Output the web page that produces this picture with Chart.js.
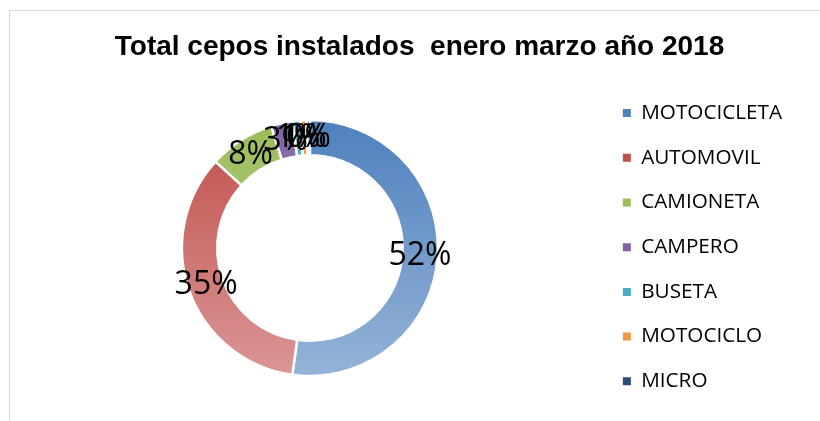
<!DOCTYPE html>
<html>
<head>
<meta charset="utf-8">
<script src="https://cdn.jsdelivr.net/npm/chart.js@4"></script>
<style>
  html, body { margin: 0; padding: 0; background: #fff; }
  #wrap { position: relative; width: 820px; height: 421px; overflow: hidden; }
  #frame { position: absolute; left: 9px; top: 10px; width: 900px; height: 500px; border: 1px solid #d9d9d9; }
  #c { position: absolute; left: 0; top: 0; }
</style>
</head>
<body>
<div id="wrap">
  <div id="frame"></div>
  <canvas id="c" width="834" height="440"></canvas>
</div>
<script>
// datos del grafico
const TITULO = 'Total cepos instalados  enero marzo año 2018';
const CATEGORIAS = ['MOTOCICLETA', 'AUTOMOVIL', 'CAMIONETA', 'CAMPERO', 'BUSETA', 'MOTOCICLO', 'MICRO'];
const PORCENTAJES = [52.2, 34.6, 8.3, 2.7, 1.0, 0.8, 0.4];

// colores: arriba (oscuro) y abajo (claro) del degradado
const COLOR_ARRIBA = ['#4f81bd', '#c0504d', '#9bbb59', '#8064a2', '#4bacc6', '#f79646', '#2c4d75'];
const COLOR_ABAJO  = ['#95b3d7', '#da9694', '#c4d79b', '#b3a2c7', '#92cddc', '#fac090', '#5f7fa8'];

const RADIO = 128;

// pequeños corrimientos de titulo y leyenda (px)
const TITULO_DX = 13;
const LEYENDA_DX = -6;
const LEYENDA_DY = 31;

function degradado(ctx) {
  const chart = ctx.chart;
  const i = ctx.dataIndex;
  const area = chart.chartArea;
  if (!area || i == null) return COLOR_ARRIBA[i || 0];
  const cy = (area.top + area.bottom) / 2;
  const g = chart.ctx.createLinearGradient(0, cy - RADIO, 0, cy + RADIO);
  g.addColorStop(0, COLOR_ARRIBA[i]);
  g.addColorStop(1, COLOR_ABAJO[i]);
  return g;
}

// etiquetas de % sobre el anillo
const etiquetas = {
  id: 'etiquetas',
  afterDatasetsDraw(chart) {
    const c = chart.ctx;
    const total = PORCENTAJES.reduce((a, b) => a + b, 0);
    c.save();
    c.font = '32px "Open Sans"';
    c.fillStyle = '#000';
    c.textAlign = 'center';
    c.textBaseline = 'middle';
    chart.getDatasetMeta(0).data.forEach((arc, i) => {
      const p = arc.tooltipPosition();
      c.fillText(Math.round(PORCENTAJES[i] * 100 / total) + '%', p.x, p.y);
    });
    c.restore();
  }
};

// mueve titulo y leyenda despues del layout
const ajustes = {
  id: 'ajustes',
  afterLayout(chart) {
    const t = chart.titleBlock, l = chart.legend;
    if (t) { t.left += TITULO_DX; t.right += TITULO_DX; }
    if (l) {
      l.left += LEYENDA_DX; l.right += LEYENDA_DX;
      l.top += LEYENDA_DY; l.bottom += LEYENDA_DY;
    }
  }
};

new Chart(document.getElementById('c'), {
  type: 'doughnut',
  data: {
    labels: CATEGORIAS,
    datasets: [{
      data: PORCENTAJES,
      backgroundColor: degradado,
      borderColor: '#fff',
      borderWidth: 2.5
    }]
  },
  options: {
    responsive: false,
    animation: false,
    radius: RADIO,
    cutout: '72.4%',
    layout: { padding: { left: 15, right: 36, top: 0, bottom: 7.6 } },
    plugins: {
      tooltip: { enabled: false },
      title: {
        display: true,
        text: TITULO,
        color: '#000',
        font: { family: '"Liberation Sans", Arial', size: 28, weight: 'bold' },
        padding: { top: 30, bottom: 0 }
      },
      legend: {
        position: 'right',
        labels: {
          color: '#000',
          font: { family: '"Open Sans"', size: 20.7 },
          boxWidth: 8,
          boxHeight: 8,
          padding: 24,
          generateLabels(chart) {
            return CATEGORIAS.map((t, i) => ({
              text: t,
              fillStyle: COLOR_ARRIBA[i],
              strokeStyle: COLOR_ARRIBA[i],
              lineWidth: 0,
              index: i
            }));
          }
        }
      }
    }
  },
  plugins: [etiquetas, ajustes]
});
</script>
</body>
</html>
